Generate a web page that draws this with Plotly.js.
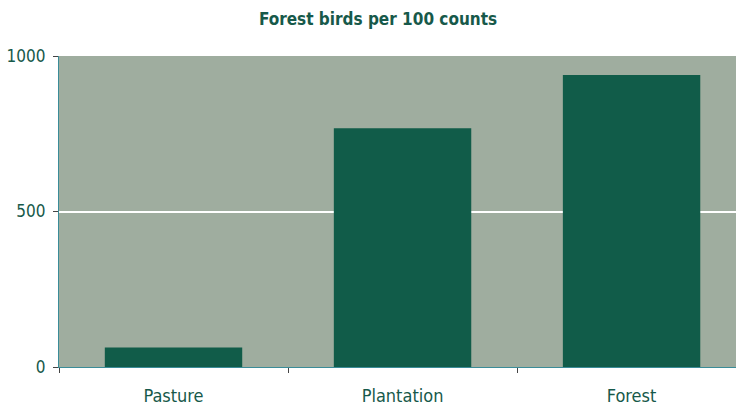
<!DOCTYPE html>
<html>
<head>
<meta charset="utf-8">
<script src="https://cdn.plot.ly/plotly-3.0.1.min.js"></script>
<style>html,body{margin:0;padding:0;background:#fff;}#chart{width:736px;height:410px;}</style>
</head>
<body>
<div id="chart"></div>
<script>
const categories = ["Pasture", "Plantation", "Forest"];
const birdsPer100 = [63, 768, 939];
const yTicks = [0, 500, 1000];

const font = "'Liberation Sans Narrow', 'DejaVu Sans Condensed', 'Roboto', sans-serif";
const textColor = "#17594a";

Plotly.newPlot("chart", [{
  type: "bar",
  x: categories,
  y: birdsPer100,
  marker: {color: "#115c49", line: {width: 0}},
  width: 0.6,
  hoverinfo: "none"
}], {
  width: 736, height: 410,
  margin: {l: 59, r: 0, t: 56, b: 43},
  paper_bgcolor: "#ffffff",
  plot_bgcolor: "#9fad9f",
  showlegend: false,
  title: {text: "<b>Forest birds per 100 counts</b>", font: {family: font, size: 17, color: textColor},
          x: 378/736, xanchor: "center", y: 1 - 19/410, yref: "container", yanchor: "middle"},
  xaxis: {
    type: "category",
    range: [-0.5, 2.456],
    showline: true, linecolor: "#3a8c98", linewidth: 1.2,
    ticks: "outside", tickson: "boundaries", ticklen: 5, tickcolor: "#444", tickwidth: 1,
    tickfont: {family: font, size: 18, color: textColor},
    showgrid: false, ticklabelstandoff: 12
  },
  yaxis: {
    range: [0, 1000], tickvals: yTicks, ticktext: yTicks.map(String),
    showline: true, linecolor: "#3a8c98", linewidth: 1.2,
    ticks: "outside", ticklen: 5, tickcolor: "#444", tickwidth: 1,
    tickfont: {family: font, size: 17, color: textColor},
    showgrid: true, gridcolor: "#ffffff", gridwidth: 2,
    zeroline: false, ticklabelstandoff: 4
  }
}, {staticPlot: true});
</script>
</body>
</html>
